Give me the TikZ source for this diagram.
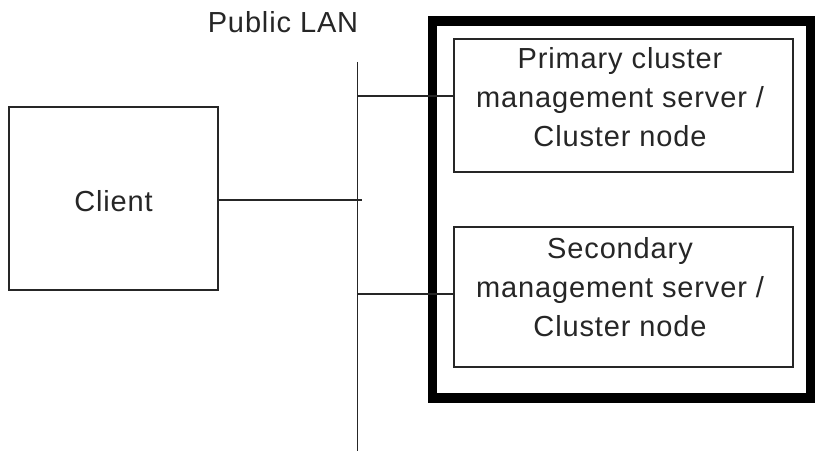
\documentclass[tikz,border=0pt]{standalone}
\usepackage{fontspec}
\setmainfont[LetterSpace=3]{Liberation Sans}
\begin{document}
\begin{tikzpicture}[x=1pt,y=-1pt,
  thinline/.style={line width=1.3pt,draw=black!85},
  box/.style={thinline,rectangle,inner sep=0pt},
  lbl/.style={font=\fontsize{29}{39}\selectfont,align=center,inner sep=0pt,text=black!85}]
\useasboundingbox (0,0) rectangle (816,457);
\fill[white] (0,0) rectangle (816,457);
% outer thick box
\node[draw=black,line width=9.5pt,minimum width=378pt,minimum height=377pt,inner sep=0pt] (outer) at (621.5,209.5) {};
% boxes
\node[box,minimum width=209pt,minimum height=183pt] (client) at (113.5,198.5) {};
\node[box,minimum width=339pt,minimum height=133pt] (prim) at (623.5,105.5) {};
\node[box,minimum width=339pt,minimum height=140pt] (sec) at (623.5,297) {};
% texts
\node[lbl] (clienttext) at (113.5,201) {Client};
\node[lbl] (primtext) at (620,97) {Primary cluster\\management server /\\Cluster node};
\node[lbl] (sectext) at (620,287) {Secondary\\management server /\\Cluster node};
\node[lbl,anchor=base] (lanlabel) at (283,33) {Public LAN};
% LAN
\coordinate (lantop) at (357.5,62);
\coordinate (lanbot) at (357.5,451);
\coordinate (lanc) at (361.5,200);
\coordinate (lanp) at (357.5,96);
\coordinate (lans) at (357.5,294);
\draw[thinline] (lantop) -- (lanbot);
\draw[thinline] (client.east |- lanc) -- (lanc);
\draw[thinline] (lanp) -- (prim.west |- lanp);
\draw[thinline] (lans) -- (sec.west |- lans);
\end{tikzpicture}
\end{document}
